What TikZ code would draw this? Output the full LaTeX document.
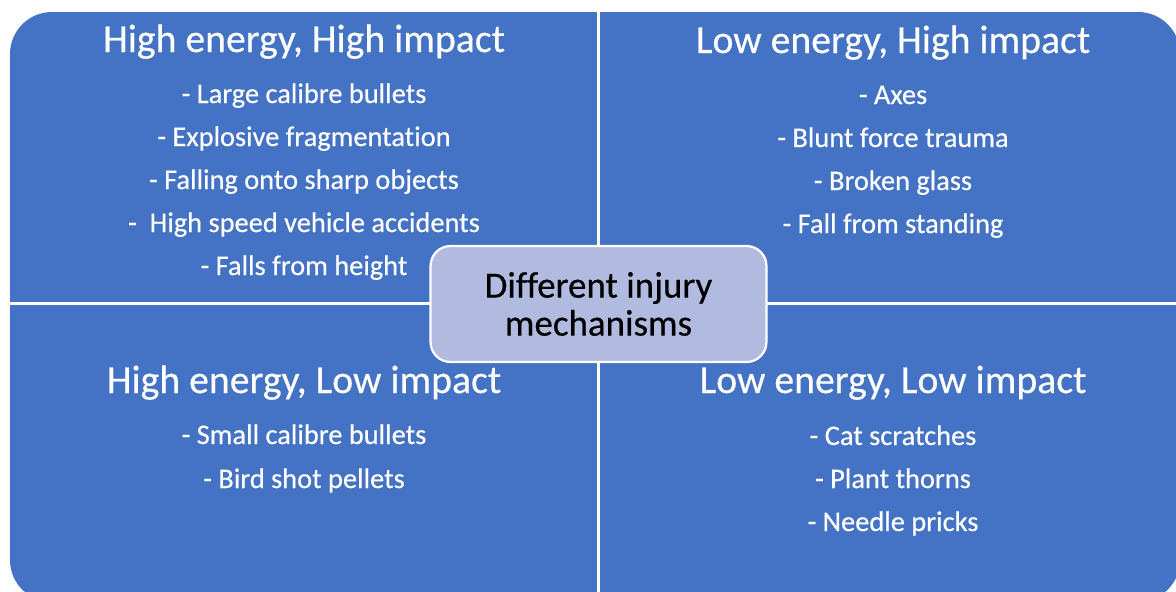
\documentclass[tikz,border=0pt]{standalone}
\usepackage{fontspec}
\setmainfont[Ligatures=NoCommon, FakeBold=0.4]{Carlito}
\definecolor{quadblue}{HTML}{4472C4}
\definecolor{centerfill}{HTML}{B0BBDF}
\tikzset{
  title/.style={anchor=base, text=white, inner sep=0pt, font=\fontsize{39.7}{47}\selectfont},
  item/.style={anchor=base, text=white, inner sep=0pt, font=\fontsize{28.4}{34}\selectfont},
  centerbox/.style={draw=white, line width=2.2pt, fill=centerfill, rounded corners=20pt,
    minimum width=336pt, minimum height=116pt, align=center, inner sep=0pt,
    font=\fontsize{37}{38}\selectfont, text=black},
  divider/.style={draw=white, line width=3pt}
}
\begin{document}
\begin{tikzpicture}[x=1pt,y=-1pt]
\useasboundingbox (0,0) rectangle (1176,592);
\clip (0,0) rectangle (1176,592);
\fill[quadblue, rounded corners=42pt] (10,12) rectangle (1180,602);
\coordinate (vt) at (598,0);
\coordinate (vb) at (598,600);
\coordinate (hl) at (0,303);
\coordinate (hr) at (1180,303);
\draw[divider] (vt) -- (vb);
\draw[divider] (hl) -- (hr);
% top-left
\node[title] (t1) at (304,52) {High energy, High impact};
\node[item] (a1) at (304,103) {- Large calibre bullets};
\node[item] (a2) at (304,146) {- Explosive fragmentation};
\node[item] (a3) at (304,189) {- Falling onto sharp objects};
\node[item] (a4) at (304,232) {-\ \ High speed vehicle accidents};
\node[item] (a5) at (304,275) {- Falls from height};
% top-right
\node[title] (t2) at (893,53) {Low energy, High impact};
\node[item] (b1) at (893,104) {- Axes};
\node[item] (b2) at (893,147) {- Blunt force trauma};
\node[item] (b3) at (893,190) {- Broken glass};
\node[item] (b4) at (893,233) {- Fall from standing};
% bottom-left
\node[title] (t3) at (304,393) {High energy, Low impact};
\node[item] (c1) at (304,444) {- Small calibre bullets};
\node[item] (c2) at (304,488) {- Bird shot pellets};
% bottom-right
\node[title] (t4) at (893,393) {Low energy, Low impact};
\node[item] (d1) at (893,445) {- Cat scratches};
\node[item] (d2) at (893,488) {- Plant thorns};
\node[item] (d3) at (893,531) {- Needle pricks};
% center
\node[centerbox] (center) at (598.5,304) {Different injury\\mechanisms};
\end{tikzpicture}
\end{document}
